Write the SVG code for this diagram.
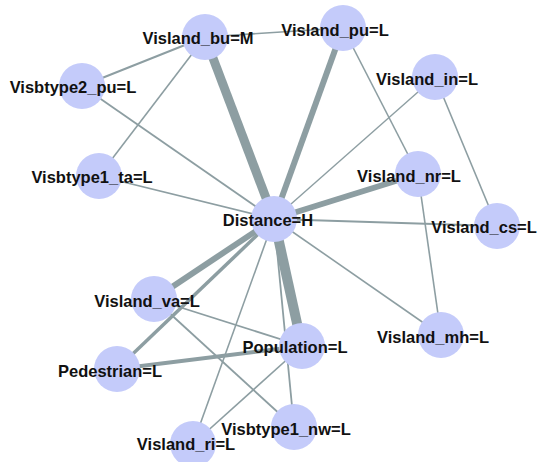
<svg xmlns="http://www.w3.org/2000/svg" width="538" height="462" viewBox="0 0 538 462">
<style>
.e{stroke:#8d9ea2;fill:none;stroke-linecap:butt}
.n circle{fill:#c4cbfa}
.n text{font-family:"Liberation Sans",Arial,sans-serif;font-weight:bold;font-size:16.5px;fill:#111;text-anchor:middle}
</style>
<rect width="538" height="462" fill="#ffffff"/>
<g id="edges">
<line class="e" x1="205" y1="37" x2="343" y2="28" stroke-width="1.6"/>
<line class="e" x1="205" y1="37" x2="82" y2="86" stroke-width="2"/>
<line class="e" x1="205" y1="37" x2="99" y2="176" stroke-width="1.6"/>
<line class="e" x1="205" y1="37" x2="274" y2="219" stroke-width="9"/>
<line class="e" x1="82" y1="86" x2="274" y2="219" stroke-width="1.8"/>
<line class="e" x1="99" y1="176" x2="274" y2="219" stroke-width="1.8"/>
<line class="e" x1="343" y1="28" x2="274" y2="219" stroke-width="6"/>
<line class="e" x1="343" y1="28" x2="418" y2="174" stroke-width="1.6"/>
<line class="e" x1="435" y1="77" x2="274" y2="219" stroke-width="1.4"/>
<line class="e" x1="435" y1="77" x2="497" y2="226" stroke-width="1.6"/>
<line class="e" x1="418" y1="174" x2="274" y2="219" stroke-width="6"/>
<line class="e" x1="418" y1="174" x2="441" y2="335" stroke-width="1.6"/>
<line class="e" x1="274" y1="219" x2="497" y2="226" stroke-width="1.8"/>
<line class="e" x1="274" y1="219" x2="441" y2="335" stroke-width="1.6"/>
<line class="e" x1="274" y1="219" x2="302" y2="346" stroke-width="10"/>
<line class="e" x1="274" y1="219" x2="154" y2="299" stroke-width="6"/>
<line class="e" x1="274" y1="219" x2="117" y2="369" stroke-width="3.5"/>
<line class="e" x1="274" y1="219" x2="193" y2="444" stroke-width="1.6"/>
<line class="e" x1="274" y1="219" x2="294" y2="427" stroke-width="1.8"/>
<line class="e" x1="154" y1="299" x2="302" y2="346" stroke-width="1.8"/>
<line class="e" x1="154" y1="299" x2="294" y2="427" stroke-width="1.8"/>
<line class="e" x1="117" y1="369" x2="302" y2="346" stroke-width="4"/>
<line class="e" x1="302" y1="346" x2="193" y2="444" stroke-width="1.6"/>
</g>
<g id="node-bu" class="n"><circle cx="205" cy="37" r="23"/><text x="198" y="44">Visland_bu=M</text></g>
<g id="node-pu" class="n"><circle cx="343" cy="28" r="23"/><text x="335" y="36">Visland_pu=L</text></g>
<g id="node-v2pu" class="n"><circle cx="82" cy="86" r="23"/><text x="73" y="93">Visbtype2_pu=L</text></g>
<g id="node-in" class="n"><circle cx="435" cy="77" r="23"/><text x="427" y="85">Visland_in=L</text></g>
<g id="node-nr" class="n"><circle cx="418" cy="174" r="23"/><text x="409" y="182">Visland_nr=L</text></g>
<g id="node-ta" class="n"><circle cx="99" cy="176" r="23"/><text x="92" y="183">Visbtype1_ta=L</text></g>
<g id="node-dist" class="n"><circle cx="274" cy="219" r="23"/><text x="268" y="226">Distance=H</text></g>
<g id="node-cs" class="n"><circle cx="497" cy="226" r="23"/><text x="484" y="233">Visland_cs=L</text></g>
<g id="node-va" class="n"><circle cx="154" cy="299" r="23"/><text x="147" y="307">Visland_va=L</text></g>
<g id="node-mh" class="n"><circle cx="441" cy="335" r="23"/><text x="433" y="343">Visland_mh=L</text></g>
<g id="node-pop" class="n"><circle cx="302" cy="346" r="23"/><text x="295" y="353">Population=L</text></g>
<g id="node-ped" class="n"><circle cx="117" cy="369" r="23"/><text x="110" y="377">Pedestrian=L</text></g>
<g id="node-nw" class="n"><circle cx="294" cy="427" r="23"/><text x="286" y="435">Visbtype1_nw=L</text></g>
<g id="node-ri" class="n"><circle cx="193" cy="444" r="23"/><text x="186" y="450">Visland_ri=L</text></g>
</svg>
